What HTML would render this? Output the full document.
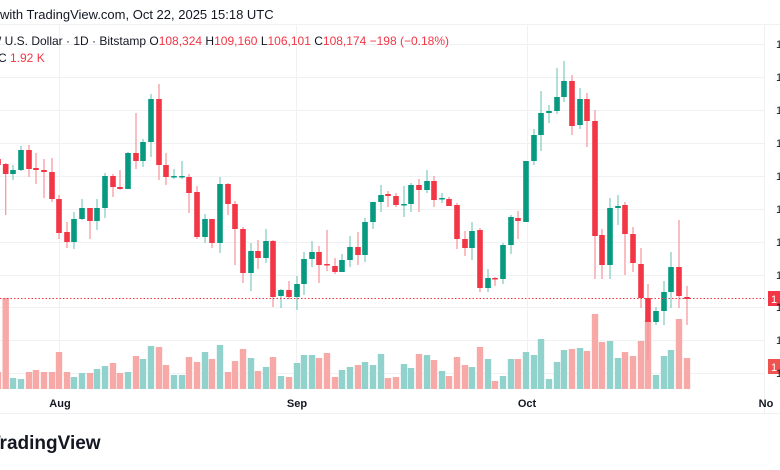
<!DOCTYPE html>
<html><head><meta charset="utf-8"><style>
html,body{margin:0;padding:0;background:#fff;width:780px;height:470px;overflow:hidden;font-family:"Liberation Sans",sans-serif;}
svg{position:absolute;left:0;top:0}
</style></head><body>
<svg id="s" width="780" height="470" xmlns="http://www.w3.org/2000/svg">
<g stroke="#f0f1f3" stroke-width="1">
<line x1="0" y1="24.5" x2="780" y2="24.5"/>
<line x1="59.5" y1="24" x2="59.5" y2="390"/>
<line x1="296.5" y1="24" x2="296.5" y2="390"/>
<line x1="527.5" y1="24" x2="527.5" y2="390"/>
<line x1="764.5" y1="24" x2="764.5" y2="413"/>
<line x1="0" y1="413.5" x2="780" y2="413.5"/>
</g>
<g id="grid" stroke="#f0f1f3"></g>
<g id="vol"></g>
<g id="cdl"></g>
<line x1="0" y1="298.5" x2="764" y2="298.5" stroke="#f23645" stroke-width="1" stroke-dasharray="1.5,2"/>
<rect x="768" y="291" width="12" height="15" fill="#f23645"/>
<text x="771" y="303" font-size="11" fill="#fff">1</text>
<rect x="768" y="359" width="12" height="15" fill="#ef5350"/>
<text x="771" y="371" font-size="11" fill="#fff">1</text>
<g id="ax" font-size="11" fill="#131722"></g>
<g font-size="11" font-weight="bold" fill="#131722" text-anchor="middle">
<text x="60" y="407">Aug</text><text x="297" y="407">Sep</text><text x="527" y="407">Oct</text><text x="766" y="407">No</text>
</g>
<text x="0" y="19" font-size="13" fill="#131722">with TradingView.com, Oct 22, 2025 15:18 UTC</text>
<text x="-2" y="45" font-size="12" fill="#131722">/ U.S. Dollar · 1D · Bitstamp  O<tspan fill="#f23645">108,324</tspan>  H<tspan fill="#f23645">109,160</tspan>  L<tspan fill="#f23645">106,101</tspan>  C<tspan fill="#f23645">108,174  −198 (−0.18%)</tspan></text>
<text x="-2" y="62" font-size="12" fill="#131722">C   <tspan fill="#f23645">1.92 K</tspan></text>
<text x="-11" y="449" font-size="19" font-weight="bold" fill="#131722">TradingView</text>
</svg>
<script>
var ns="http://www.w3.org/2000/svg";
function el(p,t,a){var e=document.createElementNS(ns,t);for(var k in a)e.setAttribute(k,a[k]);document.getElementById(p).appendChild(e);return e;}
[44,77,110,143,176,209,242,275,307,340,373].forEach(function(y){
 el('grid','line',{x1:0,x2:764,y1:y+0.5,y2:y+0.5});
 var t=el('ax','text',{x:776,y:y+4});t.textContent='1';
});
var C=[
[-2,159,165,157,167,0,372],
[5.7,164,174,163,215,0,298],
[13,170,174,165,180,1,378],
[21,150,170,146,171,1,379],
[29,150,169,145,177,0,372],
[36,168,170,153,184,0,370],
[44,170,172,159,198,0,372],
[52,172,199,158,202,0,372],
[59,199,233,195,239,0,352],
[67,232,242,222,248,0,372],
[74,219,242,212,249,1,377],
[82,208,219,199,220,1,373],
[90,208,221,208,239,0,373],
[97,208,221,199,230,1,369],
[105,176,208,173,218,1,366],
[113,176,187,174,197,0,363],
[120,187,189,170,190,0,373],
[128,153,189,152,189,1,372],
[136,153,161,113,169,0,356],
[143,142,161,139,167,1,359],
[151,99,142,94,157,1,346],
[159,99,165,84,180,0,347],
[166,165,177,153,185,0,365],
[174,176,177,169,179,1,375],
[182,176,177,161,179,1,375],
[189,177,193,174,213,0,357],
[197,192,237,186,239,0,362],
[205,219,237,214,243,1,352],
[212,219,243,219,248,0,359],
[220,184,243,177,253,1,345],
[228,184,204,183,215,0,372],
[235,204,229,201,265,0,361],
[243,229,273,227,283,0,349],
[251,251,273,243,291,1,358],
[258,251,258,240,269,0,371],
[266,241,258,229,263,1,367],
[273,241,297,240,307,0,357],
[281,290,296,289,308,1,376],
[289,290,297,281,299,0,377],
[297,284,297,276,310,1,363],
[304,259,284,252,295,1,355],
[312,252,259,241,267,1,355],
[319,252,265,246,283,0,358],
[327,264,265,230,271,0,353],
[335,266,272,258,274,0,377],
[342,260,272,254,272,1,370],
[350,247,260,236,267,1,367],
[358,247,255,232,265,0,365],
[365,222,255,218,262,1,362],
[373,202,222,202,229,1,365],
[381,195,202,185,212,1,354],
[388,194,196,191,207,0,378],
[396,196,205,193,207,0,377],
[404,204,205,186,217,1,364],
[411,185,204,183,212,1,368],
[419,185,190,179,212,0,354],
[427,181,190,170,193,1,355],
[434,181,200,176,207,0,360],
[442,198,199,193,203,1,371],
[449,199,206,197,206,0,376],
[457,205,239,203,249,0,357],
[465,239,248,231,256,0,365],
[472,231,248,222,260,1,367],
[480,230,288,228,292,0,347],
[488,278,288,269,292,1,359],
[495,278,279,277,286,0,381],
[503,245,279,243,284,1,376],
[511,217,245,215,254,1,359],
[518,218,221,211,239,0,359],
[526,161,222,161,222,1,352],
[534,135,161,129,165,1,355],
[541,113,135,91,151,1,339],
[549,111,113,105,123,1,379],
[557,97,111,68,114,1,362],
[564,81,97,61,102,1,350],
[572,81,126,75,135,0,349],
[580,99,125,88,129,1,348],
[587,99,121,93,147,0,351],
[595,121,236,110,279,0,314],
[602,235,265,229,279,0,342],
[610,208,265,198,279,1,341],
[618,206,208,195,225,1,358],
[625,205,234,202,275,0,352],
[633,234,263,227,272,0,356],
[641,264,298,248,308,0,341],
[648,298,322,284,359,0,320],
[656,311,322,307,325,1,375],
[664,292,311,281,325,1,356],
[671,267,292,252,308,1,350],
[679,267,296,220,308,0,319],
[687,297,299,286,325,0,358]
];
C.forEach(function(c){
 var x=c[0],g=c[5];
 var col=g?'#089981':'#f23645', wc=g?'#7fcabd':'#f7929a', vc=g?'#92d2cc':'#f7a9a7';
 el('vol','rect',{x:x-3.2,y:c[6],width:6.4,height:389-c[6],fill:vc});
 el('cdl','line',{x1:x,x2:x,y1:c[3],y2:c[4],stroke:wc,'stroke-width':1.2});
 el('cdl','rect',{x:x-2.8,y:c[1],width:5.6,height:Math.max(1.5,c[2]-c[1]),fill:col});
});
</script>
</body></html>
